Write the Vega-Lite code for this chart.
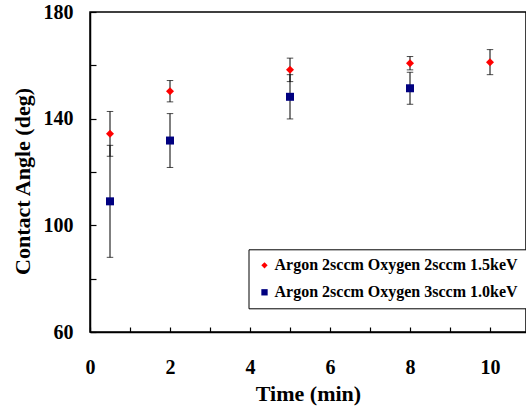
{
  "$schema": "https://vega.github.io/schema/vega-lite/v6.json",
  "width": 436,
  "height": 320,
  "autosize": {"type": "none"},
  "padding": {"left": 90, "top": 12, "right": 0, "bottom": 78},
  "background": "white",
  "config": {
    "view": {"stroke": "black", "strokeWidth": 1.5},
    "font": "Liberation Serif",
    "axis": {
      "grid": false,
      "domainColor": "black",
      "domainWidth": 1.5,
      "tickColor": "black",
      "tickWidth": 1.2,
      "labelFont": "Liberation Serif",
      "labelFontWeight": "bold",
      "labelFontSize": 20,
      "labelColor": "black",
      "titleFont": "Liberation Serif",
      "titleFontWeight": "bold",
      "titleFontSize": 22,
      "titleColor": "black",
      "labelOverlap": false,
      "labelFlush": false
    }
  },
  "data": {
    "values": [
      {"time": 0.5, "angle": 134.3, "err": 8.4, "series": "Argon 2sccm Oxygen 2sccm 1.5keV"},
      {"time": 2, "angle": 150.3, "err": 4.0, "series": "Argon 2sccm Oxygen 2sccm 1.5keV"},
      {"time": 5, "angle": 158.3, "err": 4.4, "series": "Argon 2sccm Oxygen 2sccm 1.5keV"},
      {"time": 8, "angle": 160.8, "err": 2.5, "series": "Argon 2sccm Oxygen 2sccm 1.5keV"},
      {"time": 10, "angle": 161.2, "err": 4.7, "series": "Argon 2sccm Oxygen 2sccm 1.5keV"},
      {"time": 0.5, "angle": 109.0, "err": 21.0, "series": "Argon 2sccm Oxygen 3sccm 1.0keV"},
      {"time": 2, "angle": 131.8, "err": 10.1, "series": "Argon 2sccm Oxygen 3sccm 1.0keV"},
      {"time": 5, "angle": 148.2, "err": 8.3, "series": "Argon 2sccm Oxygen 3sccm 1.0keV"},
      {"time": 8, "angle": 151.4, "err": 6.0, "series": "Argon 2sccm Oxygen 3sccm 1.0keV"}
    ]
  },
  "layer": [
    {
      "mark": {"type": "errorbar", "ticks": {"size": 6.5, "color": "black"}, "color": "black", "thickness": 1},
      "encoding": {
        "x": {
          "field": "time", "type": "quantitative",
          "scale": {"domain": [0, 10.9], "nice": false, "zero": false},
          "axis": {
            "title": "Time (min)",
            "values": [0, 1, 2, 3, 4, 5, 6, 7, 8, 9, 10],
            "labelExpr": "datum.value % 2 == 0 ? datum.label : ''",
            "tickSize": -5,
            "labelPadding": 30,
            "titlePadding": 6
          }
        },
        "y": {
          "field": "angle", "type": "quantitative",
          "scale": {"domain": [60, 180], "nice": false, "zero": false},
          "axis": {
            "title": "Contact Angle (deg)",
            "values": [60, 80, 100, 120, 140, 160, 180],
            "labelExpr": "datum.value % 40 == 20 ? datum.label : ''",
            "tickSize": -6,
            "labelPadding": 23,
            "titleX": -68,
            "titleY": 169,
            "titleBaseline": "middle"
          }
        },
        "yError": {"field": "err"}
      }
    },
    {
      "mark": {"type": "point", "filled": true, "opacity": 1, "size": 64},
      "encoding": {
        "x": {"field": "time", "type": "quantitative"},
        "y": {"field": "angle", "type": "quantitative"},
        "color": {
          "field": "series", "type": "nominal",
          "scale": {"domain": ["Argon 2sccm Oxygen 2sccm 1.5keV", "Argon 2sccm Oxygen 3sccm 1.0keV"], "range": ["#ff0000", "#000080"]},
          "legend": {
            "title": null,
            "orient": "none",
            "legendX": 158.5,
            "legendY": 237.3,
            "strokeColor": "black",
            "fillColor": "white",
            "padding": 8,
            "rowPadding": 11,
            "symbolSize": 40,
            "labelOffset": 2,
            "labelFont": "Liberation Serif",
            "labelFontWeight": "bold",
            "labelFontSize": 16,
            "labelColor": "black",
            "labelLimit": 400
          }
        },
        "shape": {
          "field": "series", "type": "nominal",
          "scale": {"domain": ["Argon 2sccm Oxygen 2sccm 1.5keV", "Argon 2sccm Oxygen 3sccm 1.0keV"], "range": ["diamond", "square"]}
        }
      }
    }
  ]
}
